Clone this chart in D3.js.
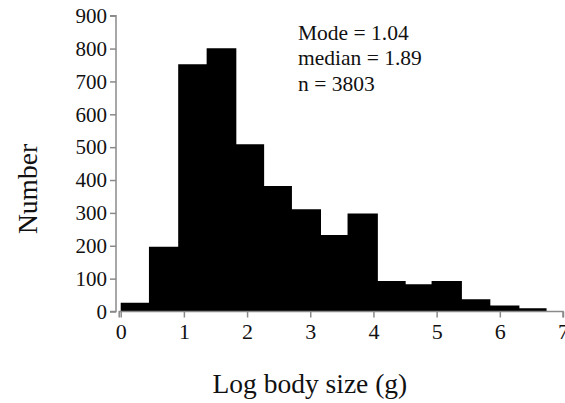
<!DOCTYPE html>
<html>
<head>
<meta charset="utf-8">
<script src="https://cdn.jsdelivr.net/npm/d3@7"></script>
<style>
  html, body { margin: 0; padding: 0; background: #fff; }
  svg { display: block; }
  svg text { font-family: "Liberation Serif", "Times New Roman", serif !important; }
</style>
</head>
<body>
<script>
// Data
const binEdges = [0, 0.447, 0.91, 1.36, 1.83, 2.27, 2.71, 3.17, 3.59, 4.07, 4.51, 4.92, 5.40, 5.85, 6.31, 6.74];
const counts   = [27, 197, 752, 801, 509, 382, 311, 233, 298, 93, 83, 93, 37, 18, 10];
const xTicks = [0, 1, 2, 3, 4, 5, 6, 7];
const yTicks = [0, 100, 200, 300, 400, 500, 600, 700, 800, 900];
const annotations = ["Mode = 1.04", "median = 1.89", "n = 3803"];
const xLabel = "Log body size (g)";
const yLabel = "Number";

const FONT = "'Liberation Serif', 'Times New Roman', serif";
const W = 565, H = 403;
const svg = d3.select("body").append("svg").attr("width", W).attr("height", H);
svg.append("rect").attr("width", W).attr("height", H).attr("fill", "#fff");

const x = d3.scaleLinear().domain([0, 7]).range([120.7, 563]);
const y = d3.scaleLinear().domain([0, 900]).range([311.5, 15.7]);

// Step outline of the histogram (one solid shape, no seams between bins)
const steps = binEdges.map((e, i) => ({ x: e, n: i < counts.length ? counts[i] : counts[counts.length - 1] }));
const area = d3.area()
  .x(d => x(d.x))
  .y0(y(0))
  .y1(d => y(d.n))
  .curve(d3.curveStepAfter);
svg.append("path").datum(steps).attr("d", area).attr("fill", "#000");

const axisColor = "#8a8a8a";

// Y axis
const yAxisX = 116;
const gy = svg.append("g").attr("transform", `translate(${yAxisX},0)`)
  .call(d3.axisLeft(y).tickValues(yTicks).tickSize(6).tickPadding(3).tickFormat(d3.format("d")));
gy.attr("font-family", null);
gy.select(".domain").attr("stroke", axisColor).attr("stroke-width", 1.5)
  .attr("d", `M-6,${y(900)}H0V${y(0)}H-6`);
gy.selectAll(".tick line").attr("stroke", axisColor).attr("stroke-width", 1.5);
gy.selectAll(".tick text").style("font-family", FONT).style("font-size", "21px").attr("fill", "#111");

// X axis
const gx = svg.append("g").attr("transform", `translate(0,${y(0)})`)
  .call(d3.axisBottom(x).tickValues(xTicks).tickSize(6).tickPadding(6).tickFormat(d3.format("d")));
gx.attr("font-family", null);
gx.select(".domain").attr("stroke", axisColor).attr("stroke-width", 1.5)
  .attr("d", `M${x(0) - 1.5},6V0H${x(7)}V6`);
gx.selectAll(".tick line").attr("stroke", axisColor).attr("stroke-width", 1.5);
gx.selectAll(".tick text").style("font-family", FONT).style("font-size", "22px").attr("fill", "#111");

// Annotations
svg.append("g").selectAll("text").data(annotations).join("text")
  .attr("x", 298)
  .attr("y", (d, i) => 39.5 + i * 25.7)
  .style("font-family", FONT).style("font-size", "21.5px")
  .attr("fill", "#111")
  .text(d => d);

// Axis titles
svg.append("text")
  .attr("x", 212.5).attr("y", 393)
  .style("font-family", FONT).style("font-size", "27.5px")
  .attr("fill", "#111")
  .text(xLabel);

svg.append("text")
  .attr("transform", "translate(36.5,189) rotate(-90)")
  .attr("text-anchor", "middle")
  .style("font-family", FONT).style("font-size", "27.5px")
  .attr("fill", "#111")
  .text(yLabel);
</script>
</body>
</html>
